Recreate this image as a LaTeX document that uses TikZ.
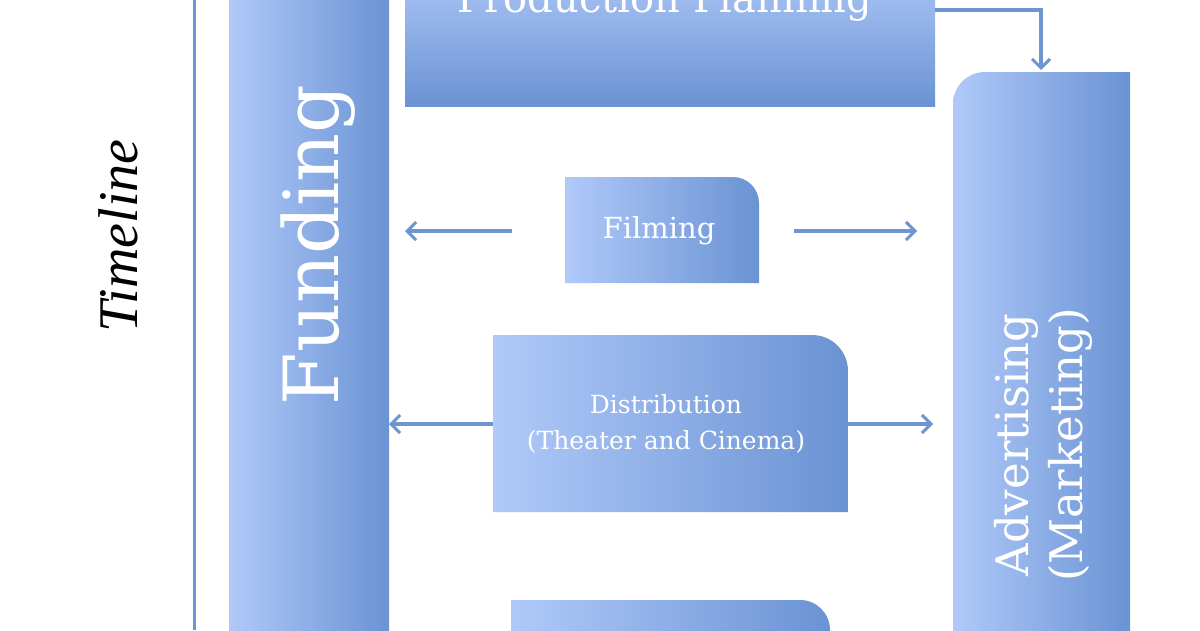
\documentclass[tikz,border=0pt]{standalone}
\usepackage{fontspec}
\setmainfont{DejaVu Serif}
\newfontfamily\tlfont{Liberation Serif}
\usetikzlibrary{arrows.meta}
\definecolor{lightb}{HTML}{B0C9F9}
\definecolor{darkb}{HTML}{6A93D3}
\definecolor{lineb}{HTML}{6E95CF}
\tikzset{
 hbox/.style={left color=lightb,right color=darkb,draw=none,inner sep=0pt},
 vbox/.style={top color=lightb!80!darkb,bottom color=darkb,draw=none,inner sep=0pt},
 lbl/.style={text=white,align=center},
 conn/.style={draw=lineb,line width=3.2pt,-{Straight Barb[length=9pt,width=18pt,line width=3pt]}}
}
\begin{document}
\begin{tikzpicture}[x=1pt,y=-1pt]
\useasboundingbox[fill=white] (0,0) rectangle (1200,630);
% timeline
\draw[lineb,line width=3pt] (194,0) -- (194,630);
\node[rotate=90,font=\tlfont\fontsize{56}{60}\selectfont\itshape] (tl) at (118,236) {Timeline};
% funding
\path[hbox] (229,0) rectangle (389,630);
\node[lbl,rotate=90,font=\fontsize{76}{90}\selectfont] (fund) at (318,245) {Funding};
\coordinate (fundR1) at (405,231);
\coordinate (fundR2) at (389,424);
% production planning
\path[vbox] (405,-10) rectangle (935,106);
\node[lbl,font=\fontsize{40}{44}\selectfont] (pp) at (665,2) {Production Planning};
% advertising
\path[hbox] (1130,72) -- (985,72) to[out=180,in=90] (953,104) -- (953,640) -- (1130,640) -- cycle;
\node[lbl,rotate=90,font=\fontsize{45}{54}\selectfont] (adv) at (1043,445) {Advertising\\(Marketing)};
\coordinate (advT) at (1041,70);
\coordinate (advL1) at (917,231);
\coordinate (advL2) at (933,424);
% filming
\path[hbox] (565,177) -- (733,177) to[out=0,in=90] (759,203) -- (759,283) -- (565,283) -- cycle;
\node[lbl,font=\fontsize{29}{32}\selectfont] (film) at (659,231) {Filming};
\coordinate (filmL) at (512,231);
\coordinate (filmR) at (794,231);
% distribution
\path[hbox] (493,335) -- (812,335) to[out=0,in=90] (848,371) -- (848,512) -- (493,512) -- cycle;
\node[lbl,font=\fontsize{25}{36}\selectfont] (dist) at (666,424) {Distribution\\(Theater and Cinema)};
\coordinate (distL) at (493,424);
\coordinate (distR) at (848,424);
% bottom box
\path[hbox] (511,600) -- (800,600) to[out=0,in=90] (830,630) -- (830,640) -- (511,640) -- cycle;
% connectors
\coordinate (ppR) at (935,10);
\draw[conn] (ppR) -| (advT);
\draw[conn] (filmL) -- (fundR1);
\draw[conn] (filmR) -- (advL1);
\draw[conn] (distL) -- (fundR2);
\draw[conn] (distR) -- (advL2);
\end{tikzpicture}
\end{document}
